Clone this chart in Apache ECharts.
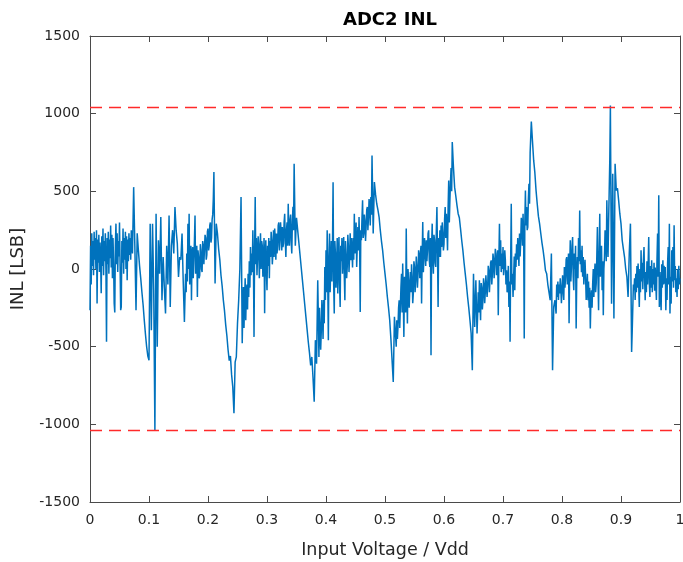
<!DOCTYPE html>
<html>
<head>
<meta charset="utf-8">
<script src="https://cdn.jsdelivr.net/npm/echarts@6/dist/echarts.min.js"></script>
<style>html,body{margin:0;padding:0;background:#fff;}#c{width:683px;height:562px;}</style>
</head>
<body>
<div id="c"></div>
<script>
// INL samples [LSB], stretch by stretch along Input Voltage / Vdd.
// Noisy stretches are read at 0.001 spacing, ramps at 0.002 spacing.
const noise1 = [ // x = 0.000 .. 0.070, step 0.001
  -265, 150, -100, 230, 20, 180, -40, 240, 60, 200,
  0, 250, -222, 190, 40, 220, -20, 170, 60, -156,
  210, 20, 260, -40, 180, 50, 230, 0, -469, 200,
  30, 240, -30, 190, 70, 280, 10, 220, -60, 200,
  40, -222, -280, 150, 292, 30, 230, -20, 180, 80,
  300, 20, -265, -244, 180, 40, 260, -30, 200, 60,
  240, 0, 210, -73, 190, 50, 230, 90, 200, 60,
  250
];
const ramp1a = [ // x = 0.072 .. 0.162, step 0.002
  100, 527, 150, -265,
  230, 120, 20, -60, -150, -230, -330, -420, -500, -560,
  -587, 292, -394, 292, -137, -1040, 356, -500, 185, -30,
  334, -201, 77, -120, -287, 150, -100, 344, -244, 150,
  250, 100, 399, 250, 163, -51, 77, 60, 228, -80,
  -341, -30
];
const noise1b = [ // x = 0.163 .. 0.209, step 0.001
  -150, 100, -80, 292, 0, 356, -100, 50, 150, -201,
  100, 141, -60, -50, 180, 345, -30, 0, 150, -180,
  120, 80, -60, -40, 160, 120, 0, -20, 180, 150,
  30, 40, 220, 200, 60, 90, 240, 260, 120, 150,
  280, 300, 170, 200, 320, 350, 450
];
const ramp1b = [ // x = 0.210 .. 0.256, step 0.002
  624, -93, 292, 230, 130, 60, -40, -110, -200, -270,
  -360, -430, -520, -590, -560, -680, -760, -929, -600, -566,
  -350, -201, 0, 463
];
const noise2 = [ // x = 0.257 .. 0.345, step 0.001
  0, -478, -250, -116, -380, -200, -60, -330, -150, -100,
  -260, -30, -180, 50, -120, 141, -40, 100, -20, 250,
  40, -437, 120, 463, 30, 200, -40, 77, 210, 150,
  -60, 120, 230, 0, 180, 150, -50, 50, 200, -285,
  100, 185, -20, -137, 150, 20, 200, -60, 180, 77,
  240, 185, 30, 100, 250, 77, 260, 200, 60, 228,
  100, 150, 280, 300, 120, 200, 300, 228, 120, 270,
  140, 165, 300, 356, 180, 77, 250, 300, 150, 420,
  200, 150, 320, 350, 180, 100, 300, 400, 250
];
const ramp2 = [ // x = 0.346 .. 0.386, step 0.002
  678, 150, 330, 250, 170, 90, 10, -70, -150, -230,
  -310, -390, -470, -540, -620, -566, -700, -855, -458, -610,
  -73
];
const noise3 = [ // x = 0.387 .. 0.477, step 0.001
  -300, -566, -250, -380, -520, -400, -200, -300, -450, -200,
  -350, 13, -200, 120, -150, 249, -100, -458, 80, 228,
  -150, 0, 180, -80, 150, 559, -100, -287, 180, 100,
  -120, 13, 200, -158, 100, 206, -100, -244, 150, 50,
  200, -30, 120, 206, -50, -201, 180, 80, -60, 13,
  220, 141, -20, 80, 230, 56, 200, 120, 10, 200,
  60, 356, 100, 150, 300, 13, 150, 270, 120, 334,
  160, -276, 250, 185, 330, 442, 200, 228, 350, 300,
  180, 270, 380, 399, 250, 330, 450, 399, 280, 463,
  350
];
const ramp3 = [ // x = 0.478 .. 0.518, step 0.002
  731, 228, 560, 480, 420, 380, 334, 250, 180, 120,
  40, -30, -100, -180, -250, -330, -450, -458, -727, -308,
  -437
];
const noise4 = [ // x = 0.519 .. 0.613, step 0.001
  -500, -330, -450, -373, -250, -201, -380, -250, -120, -30,
  -280, 35, -200, -437, -50, -116, -280, 260, -150, -351,
  0, -73, -250, -244, -20, -150, 30, -51, -220, -158,
  50, 13, -150, -80, 80, 13, -120, -30, 120, 77,
  -60, 100, 150, -222, 80, 302, -20, 77, 200, 200,
  20, 185, 50, 120, 230, 249, 60, 13, 200, -555,
  150, 292, 60, -30, 220, 185, 40, 13, 250, 399,
  100, -244, 200, 77, 250, 77, 280, 141, 300, 228,
  120, 160, 320, 399, 200, 356, 250, 120, 400, 570,
  300, 442, 560, 650, 500
];
const ramp4 = [ // x = 0.614 .. 0.656, step 0.002
  817, 656, 527, 470, 410, 356, 330, 260, 185, 120,
  40, -30, -100, -180, -250, -330, -415, -651, -30, -373,
  -73, -415
];
const noise5 = [ // x = 0.657 .. 0.747, step 0.001
  -300, -150, -280, -73, -220, -330, -90, -120, -260, -201,
  -60, -94, -220, -150, -40, -30, -180, -116, 20, -8,
  -150, -60, 40, 56, -100, -30, 100, 60, -60, 35,
  130, 99, -40, 13, 120, -298, 60, 292, 20, 185,
  -20, 100, 0, 141, -40, 13, 120, 60, -100, -8,
  -150, -116, 20, -244, -80, -469, 50, 420, -100, -30,
  -180, -60, 80, -137, 100, 13, 160, 60, 200, 120,
  20, 228, 80, 180, 330, 292, 150, 356, 200, -448,
  300, 506, 280, 399, 250, 270, 450, 549, 420, 750,
  850
];
const ramp5 = [ // x = 0.748 .. 0.790, step 0.002
  949, 820, 699, 620, 506, 420, 340, 292, 230, 170,
  120, 60, -10, -30, -100, -150, -201, 100, -651, -244,
  -201, -287
];
const noise6 = [ // x = 0.791 .. 0.881, step 0.001
  -100, -180, -80, -200, -100, -158, -60, -116, -220, -150,
  -40, -116, -200, 13, -120, -60, 60, 77, -100, -30,
  100, -350, 0, 185, -80, 13, 150, 206, -50, -137,
  100, 0, 150, -383, -50, 77, -60, 200, 50, 377,
  30, 120, -20, 150, -50, 77, -100, -20, 60, -51,
  -200, -137, -30, -201, -80, -250, -120, -383, -200, -137,
  -250, -94, 0, -180, -40, 35, -150, -94, 80, 270,
  -60, -265, 100, 356, -50, 77, 150, -137, 50, -298,
  0, 77, 250, 206, 50, 442, 200, 77, 300, 506,
  700
];
const ramp6 = [ // x = 0.882 .. 0.918, step 0.002
  1052, -223, 613, -319, 678, 506, 520, 442, 356, 292,
  185, 130, 77, 0, -51, -180, 100, 292, -534
];
const noise7 = [ // x = 0.919 .. 1.000, step 0.001
  -400, -250, -100, -137, -60, -200, -30, -150, 20, -120,
  35, -100, -244, 0, -150, 120, -80, 40, -130, 60,
  141, -60, -201, -20, -150, 50, -100, 30, 206, -90,
  -180, 20, -120, 56, -150, 0, -100, 40, -140, 10,
  -94, -200, 60, 228, -50, 474, -244, -20, -150, -265,
  30, -120, 56, -100, 20, -94, 13, -265, -60, -200,
  40, 141, -100, 292, -287, -50, -223, 120, -80, 141,
  -120, 281, -73, 20, -150, -60, -180, 0, -130, 20,
  -100, -60
];
const stretchStarts = [0, 0.072, 0.163, 0.210, 0.257, 0.346, 0.387, 0.478, 0.519, 0.614, 0.657, 0.748, 0.791, 0.882, 0.919];
const stretchSteps  = [0.001, 0.002, 0.001, 0.002, 0.001, 0.002, 0.001, 0.002, 0.001, 0.002, 0.001, 0.002, 0.001, 0.002, 0.001];
const stretchValues = [noise1, ramp1a, noise1b, ramp1b, noise2, ramp2, noise3, ramp3, noise4, ramp4, noise5, ramp5, noise6, ramp6, noise7];

const limitLines = [1040, -1040];
const yRange = [-1500, 1500];
const yTickStep = 500;
const xRange = [0, 1];
const xTickStep = 0.1;
const titleText = 'ADC2 INL';
const xLabel = 'Input Voltage / Vdd';
const yLabel = 'INL [LSB]';

const FONT = 'DejaVu Sans';
const AX = '#262626';
const LIMIT_COLOR = '#ff2a2a';

const seriesData = [];
stretchValues.forEach((vals, k) => vals.forEach((v, i) =>
  seriesData.push([+(stretchStarts[k] + i * stretchSteps[k]).toFixed(4), v])));

const axisCommon = {
  axisLine: { show: true, onZero: false, lineStyle: { color: '#4a4a4a', width: 1 } },
  axisTick: { show: true, inside: true, length: 6, lineStyle: { color: '#4a4a4a', width: 1 } },
  splitLine: { show: false }
};
const fmtX = v => String(Math.round(v * 10) / 10);
const fmtY = v => String(v);

const limitSeries = limitLines.map(v => ({
  type: 'line',
  xAxisIndex: 0, yAxisIndex: 0,
  data: xRange.map(x => [x, v]),
  showSymbol: false, symbol: 'none', silent: true, z: 3,
  color: LIMIT_COLOR,
  lineStyle: { color: LIMIT_COLOR, width: 1.5, type: [12, 7] }
}));

const chart = echarts.init(document.getElementById('c'), null, { renderer: 'canvas' });
chart.setOption({
  animation: false,
  backgroundColor: '#ffffff',
  title: {
    text: titleText, left: 385, top: 6, textAlign: 'center',
    textStyle: { fontFamily: FONT, fontWeight: 'bold', fontSize: 18, color: '#000' }
  },
  grid: { left: 90, right: 3, top: 36, bottom: 60, outerBoundsMode: 'none', containLabel: false },
  xAxis: [
    Object.assign({
      type: 'value', min: xRange[0], max: xRange[1], interval: xTickStep, position: 'bottom',
      axisLabel: { margin: 11, fontFamily: FONT, fontSize: 14, color: AX, formatter: fmtX },
      name: xLabel, nameLocation: 'middle', nameGap: 39,
      nameTextStyle: { fontFamily: FONT, fontSize: 17.5, color: AX }
    }, axisCommon),
    Object.assign({
      type: 'value', min: xRange[0], max: xRange[1], interval: xTickStep, position: 'top',
      axisLabel: { show: false }
    }, axisCommon)
  ],
  yAxis: [
    Object.assign({
      type: 'value', min: yRange[0], max: yRange[1], interval: yTickStep, position: 'left',
      axisLabel: { margin: 10, fontFamily: FONT, fontSize: 14, color: AX, formatter: fmtY },
      name: yLabel, nameLocation: 'middle', nameGap: 63, nameRotate: 90,
      nameTextStyle: { fontFamily: FONT, fontSize: 18, color: AX }
    }, axisCommon),
    Object.assign({
      type: 'value', min: yRange[0], max: yRange[1], interval: yTickStep, position: 'right',
      axisLabel: { show: false }
    }, axisCommon)
  ],
  series: [{
    type: 'line',
    xAxisIndex: 0, yAxisIndex: 0,
    data: seriesData,
    showSymbol: false,
    symbol: 'none',
    sampling: null,
    z: 2,
    color: '#0072BD',
    lineStyle: { color: '#0072BD', width: 1.5 }
  }].concat(limitSeries)
});
</script>
</body>
</html>
